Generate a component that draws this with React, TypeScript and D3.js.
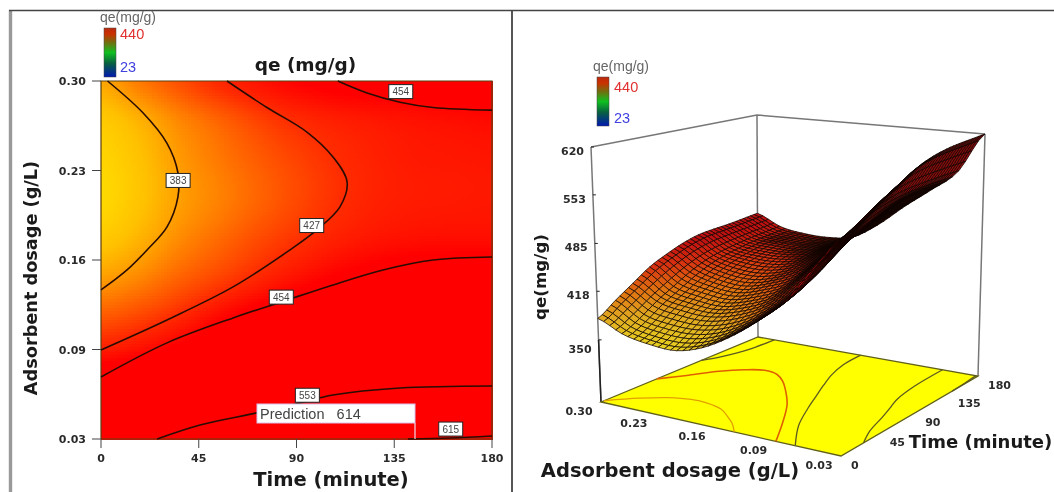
import React from "react";
import * as d3 from "d3";

const gridTimes = [0, 18, 36, 54, 72, 90, 108, 126, 144, 162, 180];
const gridDosages = [0.30, 0.27, 0.24, 0.21, 0.18, 0.15, 0.12, 0.09, 0.06, 0.03];
const qeAt030 = [380, 397, 413, 429, 440, 449, 455, 457, 458, 460, 462];
const qeAt027 = [364, 376, 392, 405, 418, 428, 434, 438, 441, 443, 445];
const qeAt024 = [357, 369, 385, 397, 408, 418, 427, 433, 437, 438, 439];
const qeAt021 = [355, 368, 383, 394, 405, 416, 426, 433, 436, 437, 438];
const qeAt018 = [365, 376, 391, 403, 415, 425, 434, 440, 443, 444, 444];
const qeAt015 = [385, 394, 407, 419, 431, 443, 453, 460, 465, 467, 468];
const qeAt012 = [412, 420, 432, 448, 463, 474, 483, 490, 495, 498, 500];
const qeAt009 = [445, 453, 465, 480, 494, 505, 515, 523, 527, 528, 529];
const qeAt006 = [495, 505, 517, 532, 545, 552, 556, 558, 559, 560, 560];
const qeAt003 = [538, 548, 562, 574, 586, 600, 608, 613, 616, 618, 620];
const qeRows = [qeAt030, qeAt027, qeAt024, qeAt021, qeAt018, qeAt015, qeAt012, qeAt009, qeAt006, qeAt003];

type P = [number, number];
const contour383: P[] = [[3, 0.30], [19.3, 0.276], [30.4, 0.253], [35.4, 0.231], [35.4, 0.2125], [30.4, 0.19], [21.2, 0.1726], [12, 0.1575], [0, 0.1424]];
const contour427: P[] = [[58, 0.30], [76.4, 0.28], [94.8, 0.2615], [106.8, 0.2427], [113.3, 0.2238], [110, 0.205], [99.4, 0.1877], [87, 0.1726], [60.8, 0.1447], [30.4, 0.1198], [0, 0.0972]];
const contour454a: P[] = [[109, 0.30], [122.5, 0.291], [137.7, 0.284], [152.9, 0.28], [180, 0.278]];
const contour454b: P[] = [[0, 0.0768], [30.4, 0.1025], [60.8, 0.1213], [83.8, 0.1338], [106.8, 0.1462], [129.8, 0.1575], [152.9, 0.165], [180, 0.1673]];
const contour553: P[] = [[25.8, 0.03], [45.6, 0.0406], [71.8, 0.0497], [91.6, 0.0572], [106.8, 0.0632], [137.7, 0.0685], [180, 0.07]];
const contour615: P[] = [[141.3, 0.03], [160.7, 0.0308], [180, 0.0323]];
const contours = [contour383, contour427, contour454a, contour454b, contour553, contour615];
const floorContourColors = ["#e2a000", "#e06000", "#5c5a20", "#5c5a20", "#5c5a20", "#5c5a20"];

const contourLabels = ["383", "427", "454", "454", "553", "615"];
const contourLabelTimes = [35.5, 97, 138, 83, 95, 161];
const contourLabelDosages = [0.225, 0.191, 0.292, 0.137, 0.063, 0.0375];

const timeTicks = [0, 45, 90, 135, 180];
const dosageTicks = [0.03, 0.0975, 0.165, 0.2325, 0.30];
const dosageTickLabels = ["0.03", "0.09", "0.16", "0.23", "0.30"];
const zTicks = [350, 418, 485, 553, 620];

const heatColor = d3.scaleLinear<string>().domain([355, 370, 383, 405, 427, 450]).range(["#ffd800", "#ffc000", "#ffa000", "#ff6400", "#ff2c00", "#ff0000"]).clamp(true);
const meshColor = d3.scaleLinear<string>().domain([355, 380, 405, 430, 450, 620]).range(["#e8d020", "#e0a820", "#e07010", "#d83010", "#c01010", "#7a0808"]).clamp(true);
const shadeByArea = d3.scaleLinear().domain([3, 16]).range([0, 1]).clamp(true);

const BOLD = "'DejaVu Sans', sans-serif";
const SANS = "'Liberation Sans', Arial, sans-serif";

function cr(a: number, b: number, c: number, d: number, s: number) {
  return 0.5 * (2 * b + (c - a) * s + (2 * a - 5 * b + 4 * c - d) * s * s + (3 * b - a - 3 * c + d) * s * s * s);
}
function resample(arr: number[], f: number) {
  const n = arr.length - 1;
  const x = Math.max(0, Math.min(n, f * n));
  const i = Math.min(n - 1, Math.floor(x));
  return cr(arr[Math.max(0, i - 1)], arr[i], arr[i + 1], arr[Math.min(n, i + 2)], x - i);
}
// u: 0..1 along time, v: 0..1 from dosage 0.30 to 0.03
function surface(u: number, v: number) {
  return resample(qeRows.map((r) => resample(r, u)), v);
}

function squareToQuad(q: P[]) {
  const [x0, y0] = q[0], [x1, y1] = q[1], [x2, y2] = q[2], [x3, y3] = q[3];
  const dx1 = x1 - x2, dx2 = x3 - x2, sx = x0 - x1 + x2 - x3;
  const dy1 = y1 - y2, dy2 = y3 - y2, sy = y0 - y1 + y2 - y3;
  const den = dx1 * dy2 - dx2 * dy1;
  const g = (sx * dy2 - dx2 * sy) / den, h = (dx1 * sy - sx * dy1) / den;
  const a = x1 - x0 + g * x1, b = x3 - x0 + h * x3, d = y1 - y0 + g * y1, e = y3 - y0 + h * y3;
  return (u: number, v: number): P => {
    const w = g * u + h * v + 1;
    return [(a * u + b * v + x0) / w, (d * u + e * v + y0) / w];
  };
}

const floorQuad: P[] = [[601, 402], [758, 337], [978, 376], [841, 456]];
const topQuad: P[] = [[591, 147], [757, 115], [985, 134], [846, 170]];
const floorMap = squareToQuad(floorQuad);
const topMap = squareToQuad(topQuad);
const uScale = d3.scaleLinear().domain([0, 180]).range([0, 1]);
const vScale = d3.scaleLinear().domain([0.30, 0.03]).range([0, 1]);
const zFrac = d3.scaleLinear().domain([263, 620]).range([0, 1]);
function project(u: number, v: number, z: number): P {
  const a = floorMap(u, v), b = topMap(u, v), f = zFrac(z);
  return [a[0] + (b[0] - a[0]) * f, a[1] + (b[1] - a[1]) * f];
}

const xS = d3.scaleLinear().domain([0, 180]).range([101, 492]);
const yS = d3.scaleLinear().domain([0.03, 0.30]).range([439, 81]);
const line2d = d3.line<P>().x((p) => xS(p[0])).y((p) => yS(p[1])).curve(d3.curveCatmullRom.alpha(0.5));
const lineFloor = d3.line<P>().x((p) => p[0]).y((p) => p[1]).curve(d3.curveCatmullRom.alpha(0.5));
const polyPath = d3.line<P>().x((p) => p[0]).y((p) => p[1]);

function ColorBar({ x, y, id, lx, ty, gap }: { x: number; y: number; id: string; lx: number; ty: number; gap: number }) {
  return (
    <g>
      <defs>
        <linearGradient id={id} x1="0" y1="0" x2="0" y2="1">
          <stop offset="0" stopColor="#b82a10" />
          <stop offset="0.12" stopColor="#cc3000" />
          <stop offset="0.3" stopColor="#707010" />
          <stop offset="0.5" stopColor="#10c020" />
          <stop offset="0.72" stopColor="#086040" />
          <stop offset="1" stopColor="#0018b0" />
        </linearGradient>
      </defs>
      <rect x={x} y={y} width={12} height={49} fill={`url(#${id})`} stroke="#444" strokeWidth={0.5} />
      <text x={x - 4} y={y - 6} fontFamily={SANS} fontSize={14} fill="#666">qe(mg/g)</text>
      <text x={lx} y={ty} fontFamily={SANS} fontSize={14.5} fill="#e03030">440</text>
      <text x={lx} y={ty + gap} fontFamily={SANS} fontSize={14.5} fill="#4040e0">23</text>
    </g>
  );
}

export default function App() {
  const heatN = 130, heatM = 120;
  const heat = d3.range(heatN).flatMap((i) =>
    d3.range(heatM).map((j) => {
      const u0 = i / heatN, u1 = (i + 1) / heatN, v0 = j / heatM, v1 = (j + 1) / heatM;
      const t0 = xS(u0 * 180), t1 = xS(u1 * 180), d0 = yS(0.30 - v0 * 0.27), d1 = yS(0.30 - v1 * 0.27);
      return <rect key={`${i}-${j}`} x={t0} y={d0} width={t1 - t0 + 0.6} height={d1 - d0 + 0.6} fill={heatColor(surface((u0 + u1) / 2, (v0 + v1) / 2))} />;
    })
  );

  const meshU = 40, meshV = 38;
  const cells: { depth: number; pts: P[]; fill: string }[] = [];
  for (let i = 0; i < meshU; i++) {
    for (let j = 0; j < meshV; j++) {
      const c: P[] = [[i, j], [i + 1, j], [i + 1, j + 1], [i, j + 1]].map(([a, b]) => {
        const u = a / meshU, v = b / meshV;
        return project(u, v, surface(u, v));
      });
      const um = (i + 0.5) / meshU, vm = (j + 0.5) / meshV;
      const area = Math.abs(d3.polygonArea(c));
      const fill = d3.interpolateRgb("#060000", meshColor(surface(um, vm)))(shadeByArea(area));
      cells.push({ depth: 1 - um + vm, pts: c, fill });
    }
  }
  cells.sort((a, b) => a.depth - b.depth);

  const fp = (q: P[]) => polyPath(q)! + "Z";

  const tickText = { fontFamily: BOLD, fontWeight: 700, fontSize: 11, fill: "#2a2a2a" } as const;

  return (
    <svg width={1054} height={492} style={{ position: "absolute", left: 0, top: 0, background: "#fff", filter: "blur(0.7px)" }}>
      {/* panel frame */}
      <line x1={10.5} x2={10.5} y1={10} y2={492} stroke="#999" strokeWidth={3.4} />
      <line x1={9} x2={1054} y1={10.5} y2={10.5} stroke="#444" strokeWidth={1.6} />
      <line x1={512} x2={512} y1={10} y2={492} stroke="#444" strokeWidth={1.8} />

      {/* LEFT PANEL */}
      <ColorBar x={104} y={28} id="cb1" lx={120} ty={39} gap={33} />
      <text x={305.5} y={71} textAnchor="middle" fontFamily={BOLD} fontWeight={700} fontSize={18.5} fill="#1a1a1a">qe (mg/g)</text>
      <g shapeRendering="crispEdges">{heat}</g>
      <path d="M101 439V81H492V439H101" fill="none" stroke="#5a4010" strokeWidth={1.2} />
      {contours.map((c, i) => (
        <path key={i} d={line2d(c)!} fill="none" stroke="#2a0c00" strokeWidth={1.6} />
      ))}
      <path d="M415 423V439" stroke="#f4d8e8" strokeWidth={1.2} />
      {contourLabels.map((l, i) => {
        const x = xS(contourLabelTimes[i]), y = yS(contourLabelDosages[i]);
        return (
          <g key={i}>
            <rect x={x - 12} y={y - 7} width={24} height={14} fill="#fff" stroke="#222" strokeWidth={1} />
            <text x={x} y={y + 3.5} textAnchor="middle" fontFamily={SANS} fontSize={10} fill="#444">{l}</text>
          </g>
        );
      })}
      <rect x={257} y={404} width={158} height={19} fill="#fff" stroke="#d8c0e8" strokeWidth={1} />
      <text x={260} y={419} fontFamily={SANS} fontSize={14.5} fill="#444">{"Prediction\u00a0\u00a0\u00a0614"}</text>

      {dosageTicks.map((d, i) => (
        <g key={d}>
          <line x1={92} x2={101} y1={yS(d)} y2={yS(d)} stroke="#444" strokeWidth={1} />
          <text x={86} y={yS(d) + 4} textAnchor="end" {...tickText}>{dosageTickLabels[i]}</text>
        </g>
      ))}
      {timeTicks.map((t) => (
        <g key={t}>
          <line x1={xS(t)} x2={xS(t)} y1={439} y2={448} stroke="#444" strokeWidth={1} />
          <text x={xS(t)} y={462} textAnchor="middle" {...tickText}>{t}</text>
        </g>
      ))}
      <text x={331} y={486} textAnchor="middle" fontFamily={BOLD} fontWeight={700} fontSize={19.5} fill="#1a1a1a">Time (minute)</text>
      <text transform="translate(37,278) rotate(-90)" textAnchor="middle" fontFamily={BOLD} fontWeight={700} fontSize={17.7} fill="#1a1a1a">Adsorbent dosage (g/L)</text>

      {/* RIGHT PANEL */}
      <ColorBar x={597} y={77} id="cb2" lx={614} ty={92} gap={31} />
      <path d={polyPath([topQuad[0], topQuad[1], topQuad[2]])!} fill="none" stroke="#777" strokeWidth={1.5} />
      {[0, 1, 2].map((i) => (
        <line key={i} x1={topQuad[i][0]} y1={topQuad[i][1]} x2={floorQuad[i][0]} y2={floorQuad[i][1]} stroke="#777" strokeWidth={1.5} />
      ))}
      <line x1={project(0, 0, 350)[0]} y1={project(0, 0, 350)[1]} x2={floorQuad[0][0]} y2={floorQuad[0][1]} stroke="#222" strokeWidth={1.5} />
      {zTicks.map((z, i) => {
        const p = project(0, 0, z);
        return (
          <g key={z}>
            <line x1={p[0]} x2={p[0] + 3} y1={p[1]} y2={p[1]} stroke="#222" strokeWidth={1} />
            <text x={p[0] - 7} y={p[1] + (i === 0 ? 13 : 8)} textAnchor="end" {...tickText}>{z}</text>
          </g>
        );
      })}
      <path d={fp(floorQuad)} fill="#ffff00" stroke="#60601a" strokeWidth={1.3} />
      {contours.map((c, i) => {
        const pts = c.map((p) => floorMap(uScale(p[0]), vScale(p[1])));
        return <path key={i} d={lineFloor(pts)!} fill="none" stroke={floorContourColors[i]} strokeWidth={i === 1 ? 1.6 : 1.3} />;
      })}
      <g>
        {cells.map((c, i) => (
          <path key={i} d={fp(c.pts)} fill={c.fill} stroke="#100400" strokeWidth={0.75} strokeLinejoin="round" />
        ))}
      </g>
      {dosageTicks.map((d, i) => {
        const p = floorMap(0, vScale(d));
        return <text key={d} x={p[0] - 22} y={p[1] + 13} textAnchor="middle" {...tickText}>{dosageTickLabels[i]}</text>;
      })}
      {timeTicks.map((t) => {
        const p = floorMap(uScale(t), 1);
        return <text key={t} x={p[0] + 10} y={p[1] + 13} {...tickText}>{t}</text>;
      })}
      <text x={670} y={477} textAnchor="middle" fontFamily={BOLD} fontWeight={700} fontSize={19.5} fill="#1a1a1a">Adsorbent dosage (g/L)</text>
      <text x={980.5} y={448} textAnchor="middle" fontFamily={BOLD} fontWeight={700} fontSize={18} fill="#1a1a1a">Time (minute)</text>
      <text transform="translate(546,277) rotate(-90)" textAnchor="middle" fontFamily={BOLD} fontWeight={700} fontSize={16.7} fill="#1a1a1a">qe(mg/g)</text>
    </svg>
  );
}
